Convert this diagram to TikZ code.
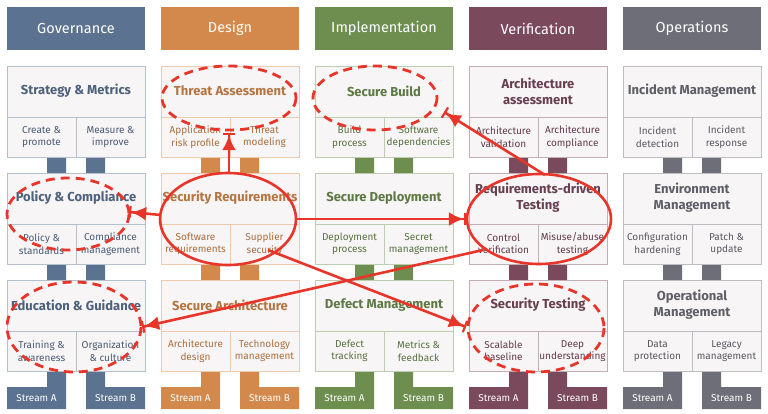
\documentclass[tikz,border=0pt]{standalone}
\usepackage{fontspec}
\setmainfont{Fira Sans}
\usetikzlibrary{arrows.meta}
\definecolor{cg}{HTML}{5B7290}
\definecolor{cd}{HTML}{D4894C}
\definecolor{ci}{HTML}{6E8E50}
\definecolor{cv}{HTML}{7A4A5C}
\definecolor{co}{HTML}{6E6E78}
\definecolor{bx}{HTML}{F7F5F6}
\definecolor{rd}{HTML}{E8352A}
\begin{document}
\begin{tikzpicture}[x=1pt,y=-1pt,
  hdr/.style={font=\fontsize{14.5}{16}\selectfont, text=white},
  ttl/.style={font=\fontsize{13}{16}\selectfont\bfseries, align=center},
  sub/.style={font=\fontsize{10}{12.5}\selectfont, align=center},
  stl/.style={font=\fontsize{10}{12}\selectfont, text=white},
  dsh/.style={draw=rd, line width=2.8pt, dash pattern=on 9pt off 6pt},
  sol/.style={draw=rd, line width=2.6pt},
  arr/.style={draw=rd, line width=2.6pt, -{Latex[length=15pt,width=14pt]Bar[width=12pt,line width=2.2pt]}}]
\useasboundingbox (0,0) rectangle (768,414);
\fill[white] (0,0) rectangle (768,414);
\newcommand\practice[6]{% x0, y0, color, title, subA, subB
  \fill[bx] (#1,#2) rectangle ++(138,91);
  \draw[#3!45, line width=0.8pt] (#1,#2) rectangle ++(138,91);
  \draw[#3!45, line width=0.8pt] (#1,#2+51) -- ++(138,0) (#1+69,#2+51) -- ++(0,40);
  \node[ttl, text=#3!85!black] at (#1+69,#2+25) {#4};
  \node[sub, text=#3!80!black] at (#1+34.5,#2+71) {#5};
  \node[sub, text=#3!80!black] at (#1+103.5,#2+71) {#6};
}
\newcommand\column[9]{% x0, color, header, t1,a1,b1, t2,a2,b2
  \fill[#2] (#1,7) rectangle ++(138,43);
  \node[hdr] at (#1+69,28.5) {#3};
  \fill[#2] (#1+40,157) rectangle ++(19,16) (#1+79,157) rectangle ++(19,16);
  \fill[#2] (#1+40,265) rectangle ++(19,15) (#1+79,265) rectangle ++(19,15);
  \fill[#2] (#1+40,371) rectangle ++(19,16) (#1+79,371) rectangle ++(19,16);
  \fill[#2] (#1,387) rectangle ++(59,22) (#1+79,387) rectangle ++(59,22);
  \node[stl] at (#1+29.5,398) {Stream A};
  \node[stl] at (#1+108.5,398) {Stream B};
  \practice{#1}{66}{#2}{#4}{#5}{#6}
  \practice{#1}{173}{#2}{#7}{#8}{#9}
}
\column{7}{cg}{Governance}{Strategy \& Metrics}{Create \&\\promote}{Measure \&\\improve}{Policy \& Compliance}{Policy \&\\standards}{Compliance\\management}
\practice{7}{280}{cg}{Education \& Guidance}{Training \&\\awareness}{Organization\\\& culture}
\column{161}{cd}{Design}{Threat Assessment}{Application\\risk profile}{Threat\\modeling}{Security Requirements}{Software\\requirements}{Supplier\\security}
\practice{161}{280}{cd}{Secure Architecture}{Architecture\\design}{Technology\\management}
\column{315}{ci}{Implementation}{Secure Build}{Build\\process}{Software\\dependencies}{Secure Deployment}{Deployment\\process}{Secret\\management}
\practice{315}{280}{ci}{Defect Management}{Defect\\tracking}{Metrics \&\\feedback}
\column{469}{cv}{Verification}{Architecture\\assessment}{Architecture\\validation}{Architecture\\compliance}{Requirements-driven\\Testing}{Control\\verification}{Misuse/abuse\\testing}
\practice{469}{280}{cv}{Security Testing}{Scalable\\baseline}{Deep\\understanding}
\column{623}{co}{Operations}{Incident Management}{Incident\\detection}{Incident\\response}{Environment\\Management}{Configuration\\hardening}{Patch \&\\update}
\practice{623}{280}{co}{Operational\\Management}{Data\\protection}{Legacy\\management}
% annotations
\draw[dsh] (229,98) ellipse [x radius=67, y radius=32];
\draw[dsh] (375,98) ellipse [x radius=62, y radius=32];
\draw[dsh] (68,214) ellipse [x radius=61, y radius=36];
\draw[dsh] (74,327) ellipse [x radius=67, y radius=45];
\draw[dsh] (536,328) ellipse [x radius=68, y radius=44];
\draw[sol] (228,219) ellipse [x radius=68, y radius=46];
\draw[sol] (539,219) ellipse [x radius=72, y radius=45];
\path[arr] (229,173) -- (229,133);
\path[arr] (161,215) -- (129,212);
\path[arr] (296,219) -- (466,219);
\path[arr] (545,175) -- (444,112);
\path[arr] (483,250) -- (142,327);
\path[arr] (268,250) -- (466,327);
\end{tikzpicture}
\end{document}
